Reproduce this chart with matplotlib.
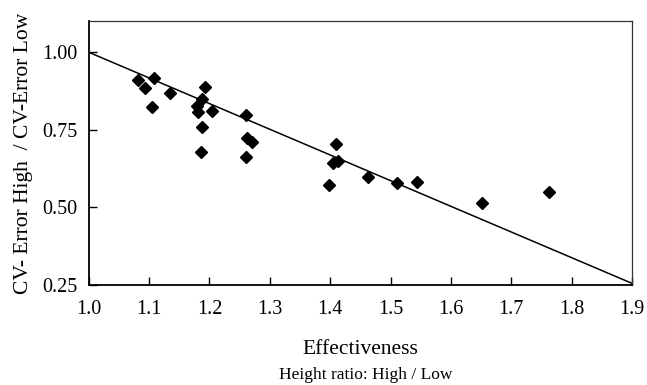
import matplotlib
from matplotlib import pyplot as plt
import numpy as np

matplotlib.use('Agg')

# height ratio (high / low)
effectiveness = [1.082, 1.094, 1.108, 1.105, 1.135, 1.193, 1.187, 1.180, 1.181,
                 1.205, 1.188, 1.186, 1.260, 1.263, 1.270, 1.260, 1.410, 1.404,
                 1.413, 1.398, 1.462, 1.510, 1.544, 1.652, 1.763]
cv_error_ratio = [0.910, 0.884, 0.918, 0.823, 0.868, 0.887, 0.848, 0.825, 0.806,
                  0.810, 0.758, 0.678, 0.798, 0.725, 0.712, 0.663, 0.703, 0.644,
                  0.648, 0.571, 0.598, 0.578, 0.582, 0.515, 0.548]

# fitted line: y = intercept + slope * x
FIT_INTERCEPT = 1.828
FIT_SLOPE = -0.828

X_TICKS = [1.0, 1.1, 1.2, 1.3, 1.4, 1.5, 1.6, 1.7, 1.8, 1.9]
Y_TICKS = [0.25, 0.50, 0.75, 1.00]

plt.rcParams['font.family'] = ['Liberation Serif', 'DejaVu Serif']

fig = plt.figure(figsize=(6.47, 3.85), dpi=100)
ax = fig.add_axes([0.137, 0.260, 0.840, 0.685])

fit_x = np.array([X_TICKS[0], X_TICKS[-1]])
ax.plot(fit_x, FIT_INTERCEPT + FIT_SLOPE * fit_x, color='black', lw=1.1, zorder=2)
ax.plot(effectiveness, cv_error_ratio, linestyle='none', marker='D', markersize=6,
        color='black', zorder=3)

ax.set_xlim(1.0, 1.9)
ax.set_ylim(0.25, 1.10)
ax.set_xticks(X_TICKS)
ax.set_xticklabels([f'{t:.1f}' for t in X_TICKS])
ax.set_yticks(Y_TICKS)
ax.set_yticklabels([f'{t:.2f}' for t in Y_TICKS])
ax.tick_params(direction='in', length=5.5, width=1.0, labelsize=14.5, pad=8,
               top=False, right=False)
ax.tick_params(axis='x', pad=11)

for side in ['left', 'bottom']:
    ax.spines[side].set_linewidth(1.3)
for side in ['top', 'right']:
    ax.spines[side].set_linewidth(0.9)
    ax.spines[side].set_color('#333333')

ax.set_xlabel('Effectiveness', fontsize=15.5, labelpad=15)
ax.set_ylabel('CV- Error High  / CV-Error Low', fontsize=15.5, labelpad=7)
fig.text(0.565, 0.006, 'Height ratio: High / Low', fontsize=12.5, ha='center', va='bottom')

fig.savefig('out.png', dpi=100)
